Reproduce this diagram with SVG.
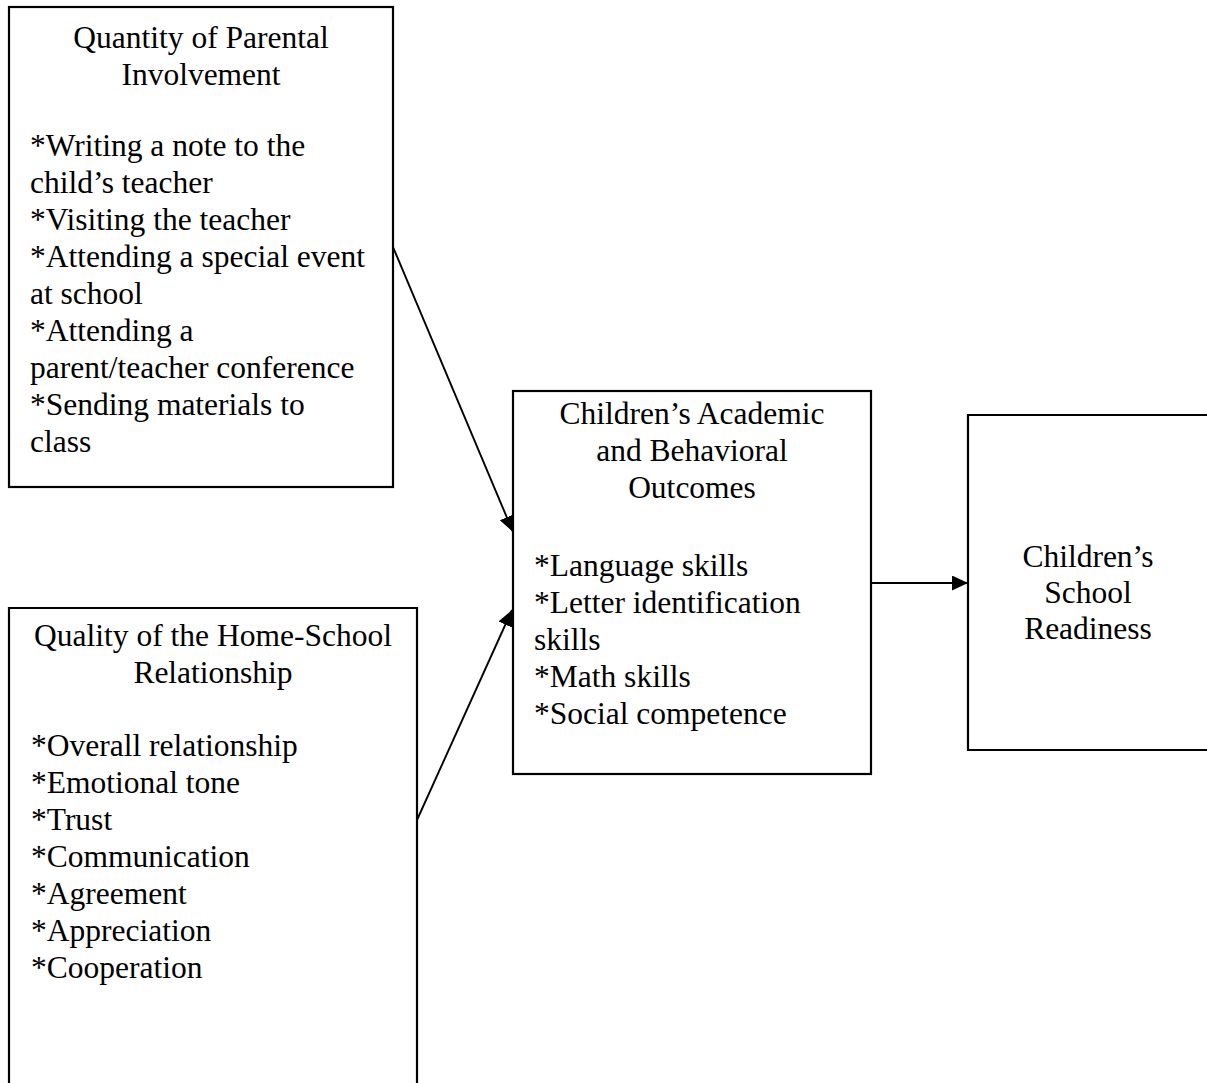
<svg xmlns="http://www.w3.org/2000/svg" width="1207" height="1083" viewBox="0 0 1207 1083">
  <style>
    .box { fill: #ffffff; stroke: #000000; stroke-width: 2.2; }
    .txt { font-family: "Liberation Serif", "Times New Roman", serif; font-size: 31.5px; fill: #000000; }
    .mid { text-anchor: middle; }
    .link { stroke: #000000; stroke-width: 1.9; fill: none; marker-end: url(#arrow); }
  </style>
  <defs>
    <marker id="arrow" markerUnits="userSpaceOnUse" markerWidth="18" markerHeight="18" refX="16" refY="7.5" orient="auto">
      <path d="M0,0 L16,7.5 L0,15 Z" fill="#000000"/>
    </marker>
  </defs>
  <rect width="1207" height="1083" fill="#ffffff"/>

  <!-- Quantity of parental involvement -->
  <g id="node-quantity">
    <rect class="box" x="9" y="7" width="384" height="480"/>
    <text class="txt mid" x="201" y="48">Quantity of Parental</text>
    <text class="txt mid" x="201" y="85">Involvement</text>
    <text class="txt" x="30" y="156">*Writing a note to the</text>
    <text class="txt" x="30" y="193">child’s teacher</text>
    <text class="txt" x="30" y="230">*Visiting the teacher</text>
    <text class="txt" x="30" y="267">*Attending a special event</text>
    <text class="txt" x="30" y="304">at school</text>
    <text class="txt" x="30" y="341">*Attending a</text>
    <text class="txt" x="30" y="378">parent/teacher conference</text>
    <text class="txt" x="30" y="415">*Sending materials to</text>
    <text class="txt" x="30" y="452">class</text>
  </g>

  <!-- Quality of the home-school relationship (box runs off the bottom edge) -->
  <g id="node-quality">
    <path class="box" d="M9,1090 L9,608 L417,608 L417,1090"/>
    <text class="txt mid" x="213" y="646">Quality of the Home-School</text>
    <text class="txt mid" x="213" y="683">Relationship</text>
    <text class="txt" x="31" y="756">*Overall relationship</text>
    <text class="txt" x="31" y="793">*Emotional tone</text>
    <text class="txt" x="31" y="830">*Trust</text>
    <text class="txt" x="31" y="867">*Communication</text>
    <text class="txt" x="31" y="904">*Agreement</text>
    <text class="txt" x="31" y="941">*Appreciation</text>
    <text class="txt" x="31" y="978">*Cooperation</text>
  </g>

  <!-- Children's academic and behavioral outcomes -->
  <g id="node-outcomes">
    <rect class="box" x="513" y="391" width="358" height="383"/>
    <text class="txt mid" x="692" y="424">Children’s Academic</text>
    <text class="txt mid" x="692" y="461">and Behavioral</text>
    <text class="txt mid" x="692" y="498">Outcomes</text>
    <text class="txt" x="534" y="576">*Language skills</text>
    <text class="txt" x="534" y="613">*Letter identification</text>
    <text class="txt" x="534" y="650">skills</text>
    <text class="txt" x="534" y="687">*Math skills</text>
    <text class="txt" x="534" y="724">*Social competence</text>
  </g>

  <!-- Children's school readiness (box runs off the right edge) -->
  <g id="node-readiness">
    <path class="box" d="M1215,415 L968,415 L968,750 L1215,750"/>
    <text class="txt mid" x="1088" y="567">Children’s</text>
    <text class="txt mid" x="1088" y="603">School</text>
    <text class="txt mid" x="1088" y="639">Readiness</text>
  </g>

  <!-- Connectors -->
  <g id="connectors">
    <line class="link" x1="393" y1="247" x2="513" y2="532"/>
    <line class="link" x1="417" y1="820" x2="512" y2="610"/>
    <line class="link" x1="871" y1="583" x2="968" y2="583"/>
  </g>
</svg>
